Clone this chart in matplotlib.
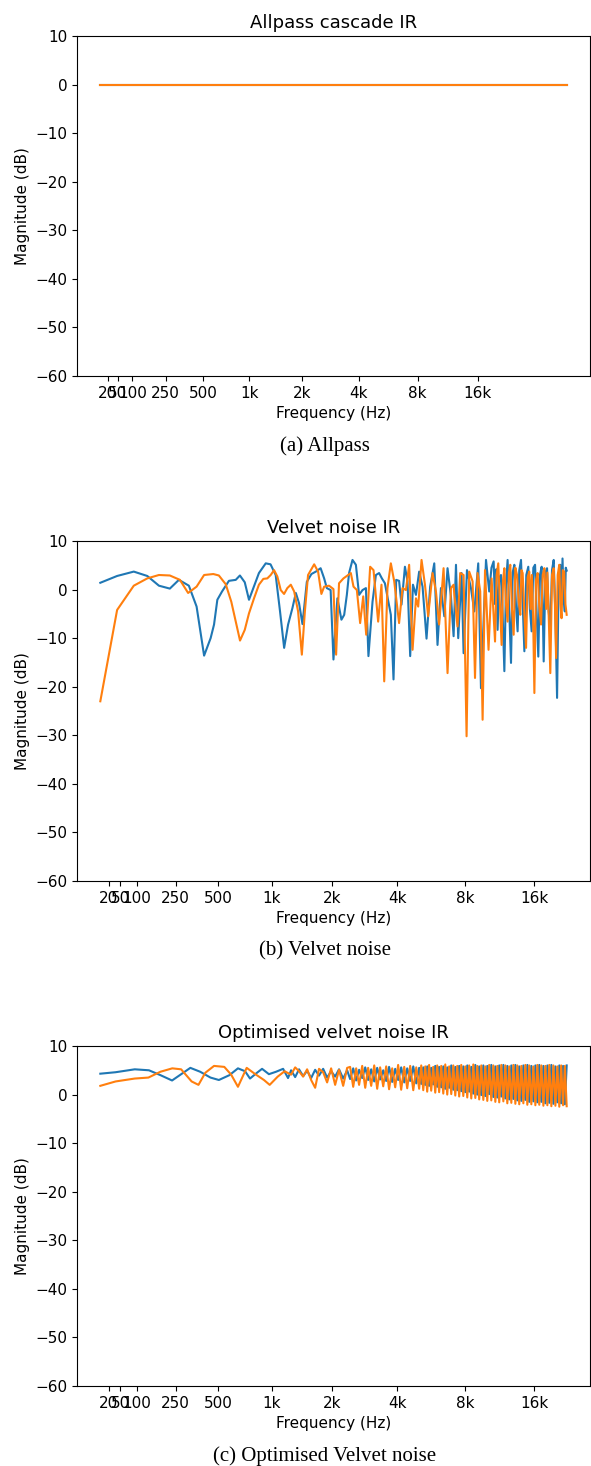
import numpy as np
import matplotlib.pyplot as plt

plt.rcParams['font.family'] = ['DejaVu Sans']

# ERB-rate frequency axis
def erb(f):
    return 21.4*np.log10(1 + 0.00437*np.asarray(f, dtype=float))

def erb_inv(e):
    return (10**(np.asarray(e, dtype=float)/21.4) - 1)/0.00437

tick_hz = [20, 50, 100, 250, 500, 1000, 2000, 4000, 8000, 16000]
tick_lbl = ['20', '50', '100', '250', '500', '1k', '2k', '4k', '8k', '16k']

# (a) allpass cascade
freq_a = [0, 44100]
blue_a = [0, 0]
orange_a = [0, 0]

# (b) velvet noise
freq_b_blue = [0, 41, 89, 134, 178, 224, 266, 317, 360, 405, 447, 470, 493, 527, 580, 636,
               672, 716, 756, 799, 857, 932, 988, 1051, 1107, 1162, 1217, 1280, 1331, 1381,
               1436, 1509, 1589, 1670, 1761, 1831, 1886, 1966, 2028, 2117, 2212, 2279, 2345,
               2402, 2492, 2584, 2674, 2773, 2875, 2953, 3083, 3195, 3304, 3402, 3511, 3643,
               3736, 3841, 3949, 4070, 4173, 4324, 4440, 4565, 4697, 4844, 5006, 5184, 5399,
               5604, 5843, 6040, 6253, 6471, 6688, 6923, 7112, 7286, 7453, 7709, 7869, 8142,
               8476, 8768, 9121, 9375, 9862, 10184, 10420, 10647, 10800, 10940, 11077, 11270,
               11462, 11650, 11854, 12050, 12245, 12450, 12669, 12880, 13101, 13320, 13533,
               13760, 14000, 14240, 14477, 14760, 15055, 15300, 15565, 15830, 16106, 16370,
               16632, 16910, 17195, 17370, 17547, 17850, 18145, 18440, 18743, 19060, 19384,
               19710, 20044, 20370, 20693, 20930, 21158, 21400, 21643, 21850, 22050]
mag_b_blue = [1.4, 2.8, 3.7, 2.8, 0.8, 0.2, 2.0, 0.8, -3.5, -13.6, -10.0, -7.2, -2.1, -0.4,
              1.8, 2.0, 2.9, 1.5, -2.1, 0.3, 3.4, 5.4, 5.2, 3.0, -4.5, -12.0, -7.2, -3.8,
              -0.7, -2.8, -7.1, 1.6, 3.2, 3.7, 4.4, 2.3, 0.3, -0.1, -14.4, -1.8, -6.2, -5.2,
              -1.1, 3.4, 6.1, 5.1, -1.1, -0.1, 0.3, -13.7, -2.5, 3.0, 3.4, 2.3, 1.3, -2.5,
              -5.2, -18.5, 2.0, 1.8, -3.1, 4.7, 1.7, -13.7, 1.0, -1.1, 3.7, 0.6, -10.1, 0.6,
              5.4, -11.4, 0.3, -5.5, 4.4, -1.4, -9.6, 5.1, -10.0, 3.4, -13.1, 4.0, 0.3, -4.5,
              5.4, -20.3, 6.1, -0.4, 4.5, 5.8, -3.0, 4.2, -8.3, 2.5, 3.0, -5.0, -16.8, 1.0,
              6.1, -4.0, -15.1, 3.5, 5.1, -3.5, -8.6, 4.0, 6.1, -3.0, -12.7, 3.0, 4.7, -4.0,
              -8.6, 4.5, 5.1, -5.0, -13.8, 3.0, 4.7, -3.0, -14.8, 3.5, 4.4, -4.5, -7.9, 4.0,
              6.1, -5.0, -22.3, 3.0, 5.1, -3.0, 6.4, -2.0, -4.5, 4.5, 3.9]

freq_b_orange = [0, 41, 89, 134, 178, 224, 271, 313, 360, 405, 465, 504, 555, 599, 636, 673,
                 716, 756, 806, 857, 905, 950, 990, 1031, 1072, 1116, 1161, 1206, 1256, 1306,
                 1366, 1426, 1476, 1530, 1639, 1712, 1776, 1831, 1932, 2028, 2088, 2155, 2261,
                 2360, 2448, 2519, 2611, 2704, 2794, 2884, 3007, 3116, 3271, 3388, 3486, 3606,
                 3736, 3869, 4070, 4217, 4369, 4516, 4678, 4844, 4957, 5130, 5313, 5490, 5741,
                 5944, 6141, 6424, 6688, 6923, 7112, 7163, 7402, 7605, 7869, 8110, 8326, 8617,
                 8829, 9059, 9306, 9531, 9765, 10116, 10431, 10610, 10797, 10970, 11152, 11340,
                 11533, 11700, 11854, 12050, 12245, 12410, 12578, 12790, 13009, 13230, 13454,
                 13680, 13899, 14060, 14232, 14480, 14722, 14960, 15199, 15400, 15600, 15800,
                 15995, 16260, 16520, 16800, 17090, 17380, 17670, 17980, 18200, 18460, 18743,
                 19060, 19384, 19620, 19850, 20170, 20491, 20720, 20956, 21230, 21501, 21780,
                 22050]
mag_b_orange = [-23.0, -4.2, 0.8, 2.3, 3.0, 2.9, 2.0, -0.7, 0.6, 3.0, 3.2, 2.9, 1.1, -2.5,
                -6.6, -10.5, -8.3, -4.9, -1.8, 1.0, 2.2, 2.3, 3.0, 4.0, 2.7, -0.1, -0.9, 0.3,
                1.0, -0.4, -4.5, -13.4, -4.5, 3.0, 5.2, 3.7, -0.9, 0.6, 0.8, 0.1, -13.4, 1.3,
                2.3, 2.9, 3.4, 0.6, -0.1, -6.9, -1.4, -9.3, 4.7, 4.0, -6.6, 1.0, -18.9, 0.3,
                5.4, 1.7, -6.9, 0.3, -0.1, 5.1, -12.4, -1.8, -3.5, 6.1, 1.0, -5.5, 3.4, -0.4,
                -7.2, 4.4, -17.2, 0.3, 1.0, -1.1, -7.6, 3.4, 3.0, -30.2, 3.7, 1.7, -18.2, 3.4,
                -0.4, -26.8, 4.0, -12.4, 2.3, -4.0, -10.7, 3.0, 5.4, -3.0, -11.4, 2.0, 4.4,
                -3.0, -6.6, 3.5, 5.1, -4.0, -9.3, 4.5, 3.0, -2.5, -5.2, 4.0, 3.4, -5.0, -12.0,
                2.5, 3.7, -4.0, 3.0, -6.0, -21.3, 2.0, 3.4, -3.5, -7.2, 3.0, 4.4, -4.0, 3.5,
                -6.0, -17.2, 3.0, 4.4, -3.0, -14.1, 3.0, 5.1, -3.0, -5.9, 4.0, 3.7, -3.0, -5.2]

# (c) optimised velvet noise
freq_c_hi = [1260, 1321, 1381, 1447, 1514, 1584, 1657, 1730, 1811, 1892, 1977, 2066, 2155,
             2254, 2353, 2429, 2511, 2592, 2674, 2764, 2854, 2944, 3040, 3139, 3238, 3340,
             3450, 3559, 3668, 3789, 3909, 4030, 4159, 4293, 4427, 4565, 4712, 4859, 5006,
             5114, 5221, 5329, 5436, 5544, 5663, 5782, 5902, 6021, 6141, 6273, 6405, 6536,
             6668, 6800, 6945, 7090, 7235, 7380, 7525, 7685, 7846, 8006, 8166, 8326, 8503,
             8679, 8856, 9032, 9209, 9404, 9599, 9794, 9989, 10184, 10399, 10615, 10830,
             11045, 11260, 11497, 11735, 11972, 12210, 12447, 12709, 12970, 13232, 13493,
             13755, 14044, 14332, 14621, 14910, 15199, 15517, 15836, 16154, 16473, 16791,
             17143, 17494, 17846, 18197, 18549, 18937, 19325, 19714, 20102, 20491, 20880,
             21270, 21660, 22050]
freq_c_blue = [0, 37, 92, 140, 184, 234, 277, 325, 381, 446, 504, 584, 655, 719, 766, 837,
               891, 969, 1056, 1148, 1216] + freq_c_hi
mag_c_blue = [4.3, 4.6, 5.2, 5.0, 4.0, 2.9, 4.2, 5.5, 4.7, 3.5, 3.0, 4.0, 5.4, 4.8, 3.3, 4.5,
              5.3, 4.2, 4.7, 5.3, 3.4,
              5.0, 3.6, 5.2, 3.8, 4.9, 3.4, 5.1, 3.9, 5.3, 3.5, 4.8, 3.7, 5.2, 3.3, 5.0,
              3.2, 5.4, 2.9, 5.1, 3.4, 5.6, 3.0, 5.2, 2.7, 5.5, 3.1, 5.0, 2.8, 5.7, 2.6, 5.3,
              3.0, 5.6, 2.5, 5.4, 2.8, 5.8, 2.3, 5.5,
              2.2, 5.6, 2.0, 5.8, 1.8, 5.5, 2.1, 5.9, 1.6, 5.7,
              1.5, 5.8, 1.2, 5.6, 1.4, 6.0, 1.0, 5.7, 0.9, 5.9,
              0.7, 5.8, 0.5, 6.0, 0.6, 5.7, 0.2, 6.1, 0.0, 5.8,
              -0.1, 6.0, -0.3, 5.9, 0.1, 6.1, -0.5, 5.8, -0.6, 6.0,
              -0.4, 6.1, -0.8, 5.9, -1.0, 6.0, -0.9, 6.1, -1.2, 5.8,
              -1.3, 6.0, -1.1, 6.1, -1.5, 5.9, -1.4, 6.0, -1.6, 6.1,
              -1.5, 5.9, -1.8, 6.0, -1.7, 6.1, -1.9, 5.8, -1.6, 6.0,
              -1.8, 5.9, -2.0, 6.0]
freq_c_orange = [0, 37, 92, 138, 184, 235, 277, 332, 371, 413, 470, 544, 598, 655, 734, 819,
                 912, 978, 1077, 1168] + freq_c_hi
mag_c_orange = [1.8, 2.7, 3.3, 3.5, 4.7, 5.4, 5.2, 2.7, 2.0, 4.5, 5.9, 5.7, 4.1, 1.6, 5.5,
                4.2, 3.0, 2.0, 3.7, 4.8,
                4.1, 5.6, 4.8, 3.7, 5.2, 3.0, 1.4, 5.3, 4.6, 2.5, 5.4, 2.0, 5.1, 1.8, 5.5,
                5.7, 1.6, 5.4, 2.0, 5.9, 1.4, 5.5, 1.8, 6.0, 1.2, 5.6, 1.7, 5.8, 1.1, 5.4, 1.5,
                6.1, 1.0, 5.7, 1.3, 5.9, 0.9, 5.6, 1.2,
                6.0, 0.9, 5.8, 0.6, 6.1, 0.8, 5.7, 0.4, 6.0, 0.5,
                5.9, 0.2, 6.2, 0.0, 5.8, 0.1, 6.0, -0.2, 5.9, -0.4,
                6.1, -0.3, 5.8, -0.6, 6.0, -0.8, 6.2, -0.7, 5.9, -1.0,
                6.0, -1.1, 5.8, -1.3, 6.1, -1.2, 6.0, -1.5, 5.9, -1.6,
                6.1, -1.4, 6.0, -1.8, 5.8, -1.7, 6.1, -1.9, 6.0, -2.0,
                5.9, -1.8, 6.1, -2.1, 6.0, -2.0, 5.8, -2.2, 6.1, -2.1,
                6.0, -2.3, 5.9, -2.2, 6.1, -2.4, 6.0, -2.3, 5.8, -2.5,
                6.0, -2.2, 5.9, -2.4]

titles = ['Allpass cascade IR', 'Velvet noise IR', 'Optimised velvet noise IR']
captions = ['(a) Allpass', '(b) Velvet noise', '(c) Optimised Velvet noise']
series = [(freq_a, blue_a, freq_a, orange_a),
          (freq_b_blue, mag_b_blue, freq_b_orange, mag_b_orange),
          (freq_c_blue, mag_c_blue, freq_c_orange, mag_c_orange)]

fig = plt.figure(figsize=(5.91, 14.66), dpi=100)
tops = [36, 541, 1046]
H = 1466.0
for i in range(3):
    top = tops[i]
    ax = fig.add_axes([77/591, 1 - (top + 340)/H, 513/591, 340/H])
    fb, mb, fo, mo = series[i]
    ax.set_xscale('function', functions=(erb, erb_inv))
    ax.plot(fb, mb, color='#1f77b4', lw=1.5)
    ax.plot(fo, mo, color='#ff7f0e', lw=1.5)
    ax.set_ylim(-60, 10)
    ax.set_yticks(np.arange(-60, 11, 10))
    ax.set_xticks(tick_hz)
    ax.set_xticklabels(tick_lbl)
    ax.tick_params(labelsize=11)
    ax.set_title(titles[i], fontsize=13)
    ax.set_xlabel('Frequency (Hz)', fontsize=11)
    ax.set_ylabel('Magnitude (dB)', fontsize=11)
    fig.text(325/591, 1 - (top + 410)/H, captions[i], ha='center', va='center',
             fontsize=15, family='Liberation Serif')

fig.savefig('out.png', dpi=100)
